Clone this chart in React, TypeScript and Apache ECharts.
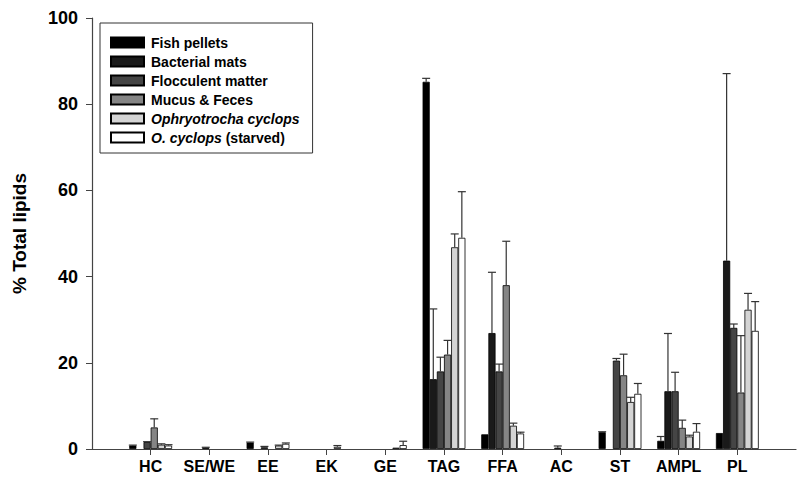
import React, { useEffect, useRef } from "react";
import * as echarts from "echarts";

const categories = ["HC", "SE/WE", "EE", "EK", "GE", "TAG", "FFA", "AC", "ST", "AMPL", "PL"];
const seriesNames = [
  "Fish pellets",
  "Bacterial mats",
  "Flocculent matter",
  "Mucus & Feces",
  "Ophryotrocha cyclops",
  "O. cyclops (starved)",
];
const fishPellets = [0.8, 0, 1.5, 0, 0, 85.2, 3.4, 0, 3.9, 1.9, 3.7];
const bacterialMats = [0, 0, 0, 0, 0, 16.2, 26.9, 0, 0, 13.4, 43.7];
const flocculent = [1.6, 0.3, 0.4, 0, 0, 18.0, 18.0, 0.3, 20.5, 13.4, 28.1];
const mucusFeces = [5.0, 0, 0, 0, 0, 21.9, 38.0, 0, 17.1, 4.9, 13.1];
const ophryotrocha = [1.0, 0, 0.8, 0.5, 0.3, 46.8, 5.4, 0, 10.9, 2.9, 32.3];
const starved = [0.8, 0, 1.2, 0, 0.9, 49.0, 3.6, 0, 12.8, 4.0, 27.4];

const fishErr = [0.1, 0, 0.1, 0, 0, 0.8, 0, 0, 0.1, 1.0, 0];
const bactErr = [0, 0, 0, 0, 0, 16.3, 14.1, 0, 0, 13.4, 43.4];
const floccErr = [0.1, 0.1, 0.2, 0, 0, 3.3, 1.7, 0.4, 0.5, 4.4, 0.9];
const mucusErr = [2.0, 0, 0, 0, 0, 3.3, 10.2, 0, 4.9, 1.8, 13.2];
const ophErr = [0.2, 0, 0.1, 0.3, 0, 3.1, 0.6, 0, 1.1, 0.3, 3.8];
const starvedErr = [0.2, 0, 0.2, 0, 0.9, 10.7, 0.3, 0, 2.4, 1.9, 6.8];

const yTicks = [0, 20, 40, 60, 80, 100];

const values = [fishPellets, bacterialMats, flocculent, mucusFeces, ophryotrocha, starved];
const errors = [fishErr, bactErr, floccErr, mucusErr, ophErr, starvedErr];
const colors = ["#000000", "#1a1a1a", "#454545", "#858585", "#d4d4d4", "#ffffff"];

const GAP = 0.27;
const FONT = "Liberation Sans, Arial, sans-serif";

export default function App() {
  const ref = useRef<HTMLDivElement>(null);
  useEffect(() => {
    const chart = echarts.init(ref.current!, null, { renderer: "svg" });
    const axisCats = ["", ...categories, ""];
    const barSeries = values.map((arr, s) => ({
      name: seriesNames[s],
      type: "bar",
      data: ["-", ...arr.map((v) => (v > 0 ? v : "-")), "-"],
      barGap: "0%",
      barCategoryGap: GAP * 100 + "%",
      itemStyle: { color: colors[s], borderColor: "#000", borderWidth: 0.8 },
      emphasis: { disabled: true },
    }));
    const errData: number[][] = [];
    errors.forEach((arr, s) => {
      arr.forEach((e, i) => {
        if (e > 0) errData.push([i + 1, values[s][i], e, s]);
      });
    });
    const richBase = { fontFamily: FONT, fontSize: 14, color: "#000", lineHeight: 15 };
    const option: any = {
      animation: false,
      backgroundColor: "#fff",
      textStyle: { fontFamily: FONT },
      grid: { left: 92, right: -8, top: 18, bottom: 31, containLabel: false },
      legend: {
        orient: "vertical",
        left: 100,
        top: 23,
        padding: [12, 13, 8, 10],
        borderColor: "#333",
        borderWidth: 1,
        itemWidth: 33,
        itemHeight: 10,
        itemGap: 4,
        icon: "rect",
        data: seriesNames,
        formatter: (name: string) => {
          if (name === "Ophryotrocha cyclops") return "{i|Ophryotrocha cyclops}";
          if (name === "O. cyclops (starved)") return "{i|O. cyclops}{b| (starved)}";
          return "{b|" + name + "}";
        },
        textStyle: {
          fontFamily: FONT,
          fontWeight: "bold",
          fontSize: 14,
          color: "#000",
          lineHeight: 15,
          padding: [0, 0, 0, 2],
          rich: {
            i: { ...richBase, fontStyle: "italic", fontWeight: "bold" },
            b: { ...richBase, fontWeight: "bold" },
          },
        },
      },
      xAxis: {
        type: "category",
        data: axisCats,
        boundaryGap: false,
        axisLine: { lineStyle: { color: "#444", width: 1.2 } },
        axisTick: {
          length: 6,
          lineStyle: { color: "#444" },
          interval: (i: number) => i > 0 && i < axisCats.length - 1,
        },
        axisLabel: {
          interval: 0,
          margin: 9,
          fontFamily: FONT,
          fontWeight: "bold",
          fontSize: 16,
          color: "#000",
        },
        splitLine: { show: false },
      },
      yAxis: {
        type: "value",
        min: 0,
        max: 100,
        interval: 20,
        name: "% Total lipids",
        nameLocation: "middle",
        nameGap: 63,
        nameRotate: 90,
        nameTextStyle: {
          fontFamily: FONT,
          fontWeight: "bold",
          fontSize: 19,
          color: "#000",
        },
        axisLine: { show: true, lineStyle: { color: "#444", width: 1.2 } },
        axisTick: { show: true, length: 6, lineStyle: { color: "#444" } },
        axisLabel: {
          margin: 14,
          fontFamily: FONT,
          fontWeight: "bold",
          fontSize: 18,
          color: "#000",
          formatter: (v: number) => (yTicks.includes(v) ? String(v) : ""),
        },
        splitLine: { show: false },
      },
      series: [
        ...barSeries,
        {
          type: "custom",
          name: "errors",
          data: errData,
          z: 5,
          silent: true,
          encode: { x: 0, y: 1 },
          renderItem: (params: any, api: any) => {
            const cat = api.value(0);
            const v = api.value(1);
            const e = api.value(2);
            const s = api.value(3);
            const band = api.size([1, 0])[0];
            const bw = (band * (1 - GAP)) / 6;
            const p0 = api.coord([cat, v]);
            const p1 = api.coord([cat, v + e]);
            const x = p0[0] - (band * (1 - GAP)) / 2 + (s + 0.5) * bw;
            const half = 4;
            const st = { stroke: "#333", lineWidth: 1.2 };
            return {
              type: "group",
              children: [
                { type: "line", shape: { x1: x, y1: p0[1], x2: x, y2: p1[1] }, style: st },
                { type: "line", shape: { x1: x - half, y1: p1[1], x2: x + half, y2: p1[1] }, style: st },
              ],
            };
          },
        },
      ],
    };
    chart.setOption(option);
    return () => chart.dispose();
  }, []);
  return (
    <div
      ref={ref}
      style={{ position: "fixed", left: 0, top: 0, width: 799, height: 480, background: "#fff" }}
    />
  );
}
